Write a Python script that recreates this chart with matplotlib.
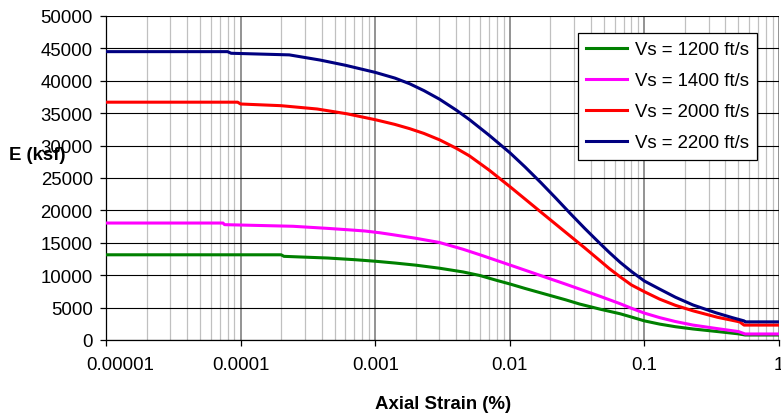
import matplotlib
matplotlib.use('Agg')
from matplotlib import pyplot as plt
from matplotlib.ticker import LogLocator, FixedLocator, NullFormatter
from matplotlib.transforms import ScaledTranslation

plt.rcParams['font.family'] = ['Liberation Sans', 'DejaVu Sans']

# values (axial strain in %, E in ksf)
STRAIN_1200 = [1e-5, 2.0e-4, 2.1e-4, 4.45e-4, 7.1e-4, 1.02e-3, 1.4e-3, 2e-3, 3e-3, 4.5e-3,
               6e-3, 8e-3, 0.01, 0.013, 0.0197, 0.026, 0.033, 0.047, 0.066, 0.08,
               0.1, 0.13, 0.17, 0.23, 0.35, 0.5, 0.56, 1.0]
E_1200 = [13150, 13150, 12910, 12650, 12390, 12140, 11880, 11550, 11080, 10500,
          9950, 9200, 8650, 7950, 6900, 6200, 5550, 4750, 4050, 3550,
          2950, 2450, 2050, 1700, 1300, 950, 770, 770]

STRAIN_1400 = [1e-5, 7.4e-5, 7.6e-5, 2.45e-4, 4.4e-4, 6.2e-4, 8.4e-4, 1.08e-3, 1.35e-3,
               2e-3, 3e-3, 4.5e-3, 6e-3, 8e-3, 0.01, 0.013, 0.0197, 0.026, 0.033,
               0.047, 0.066, 0.08, 0.1, 0.13, 0.17, 0.23, 0.35, 0.5, 0.56, 1.0]
E_1400 = [18050, 18050, 17800, 17550, 17230, 17020, 16820, 16550, 16250,
          15700, 15050, 14000, 13150, 12270, 11580, 10770, 9480, 8620, 7860,
          6730, 5600, 4900, 4150, 3450, 2850, 2300, 1750, 1300, 930, 930]

STRAIN_2000 = [1e-5, 9.5e-5, 1.0e-4, 2e-4, 3.7e-4, 6.2e-4, 1e-3, 1.4e-3, 1.8e-3, 2.3e-3,
               3e-3, 4e-3, 5e-3, 7e-3, 0.01, 0.013, 0.017, 0.022, 0.028, 0.036,
               0.047, 0.055, 0.066, 0.08, 0.1, 0.13, 0.17, 0.23, 0.35, 0.51, 0.55, 1.0]
E_2000 = [36700, 36700, 36420, 36160, 35650, 34900, 34000, 33270, 32620, 31880,
          30900, 29590, 28430, 26240, 23680, 21740, 19750, 17850, 16070, 14220,
          12200, 11000, 9750, 8500, 7450, 6300, 5350, 4500, 3500, 2800, 2300, 2300]

STRAIN_2200 = [1e-5, 8e-5, 8.5e-5, 2.3e-4, 3.9e-4, 6e-4, 1e-3, 1.4e-3, 1.8e-3, 2.3e-3,
               3e-3, 4e-3, 5e-3, 7e-3, 0.01, 0.013, 0.017, 0.022, 0.028, 0.036,
               0.047, 0.055, 0.066, 0.08, 0.1, 0.13, 0.17, 0.23, 0.34, 0.45, 0.55, 0.56, 1.0]
E_2200 = [44500, 44500, 44250, 44000, 43200, 42400, 41300, 40420, 39550, 38490,
          37170, 35480, 34030, 31620, 28910, 26690, 24290, 21880, 19570, 17230,
          14850, 13490, 11990, 10580, 9100, 7850, 6600, 5400, 4200, 3450, 2950, 2800, 2800]

SERIES = [
    ('Vs = 1200 ft/s', STRAIN_1200, E_1200, '#008000'),
    ('Vs = 1400 ft/s', STRAIN_1400, E_1400, '#FF00FF'),
    ('Vs = 2000 ft/s', STRAIN_2000, E_2000, '#FF0000'),
    ('Vs = 2200 ft/s', STRAIN_2200, E_2200, '#000080'),
]
X_TICKS = [1e-5, 1e-4, 1e-3, 1e-2, 1e-1, 1]
X_LABELS = ['0.00001', '0.0001', '0.001', '0.01', '0.1', '1']
Y_TICKS = list(range(0, 50001, 5000))

fig = plt.figure(figsize=(7.81, 4.14), dpi=100)
ax = fig.add_axes([106 / 781, 73 / 414, 673 / 781, 324 / 414])

for label, x, y, color in SERIES:
    ax.plot(x, y, color=color, lw=2.2, label=label, zorder=3)

ax.set_xscale('log')
ax.set_xlim(1e-5, 1)
ax.set_ylim(0, 50000)

ax.xaxis.set_major_locator(FixedLocator(X_TICKS))
ax.set_xticklabels(X_LABELS)
ax.xaxis.set_minor_locator(LogLocator(base=10, subs=range(2, 10), numticks=20))
ax.xaxis.set_minor_formatter(NullFormatter())
ax.set_yticks(Y_TICKS)
ax.set_yticklabels([str(v) for v in Y_TICKS])

ax.grid(axis='y', which='major', color='black', lw=0.8)
ax.grid(axis='x', which='major', color='#808080', lw=1.2)
ax.grid(axis='x', which='minor', color='#c0c0c0', lw=0.9)
ax.set_axisbelow(True)

ax.tick_params(axis='both', which='major', labelsize=13.4, direction='out',
               length=4.5, width=0.9, pad=5)
ax.tick_params(axis='x', which='major', pad=7)
ax.tick_params(axis='x', which='minor', length=0)

# first x label sits a little to the right of its tick, as in the original
first = ax.get_xticklabels()[0]
first.set_transform(first.get_transform() + ScaledTranslation(0.14, 0, fig.dpi_scale_trans))

for side in ['top', 'right']:
    ax.spines[side].set_visible(False)
for side in ['left', 'bottom']:
    ax.spines[side].set_color('black')
    ax.spines[side].set_linewidth(0.9)

fig.text(443 / 781, 1 - 405 / 414, 'Axial Strain (%)', ha='center', va='center',
         fontsize=13.4, fontweight='bold')
fig.text(37 / 781, 1 - 156 / 414, 'E (ksf)', ha='center', va='center',
         fontsize=13.4, fontweight='bold')

leg = ax.legend(loc='upper left', bbox_to_anchor=(578 / 781, 1 - 34 / 414),
                bbox_transform=fig.transFigure, fontsize=13.4, frameon=True,
                fancybox=False, framealpha=1, edgecolor='black', handlelength=2.2,
                handletextpad=0.4, labelspacing=0.75, borderpad=0.45,
                borderaxespad=0)
leg.get_frame().set_linewidth(0.9)

fig.savefig('out.png', dpi=100)
